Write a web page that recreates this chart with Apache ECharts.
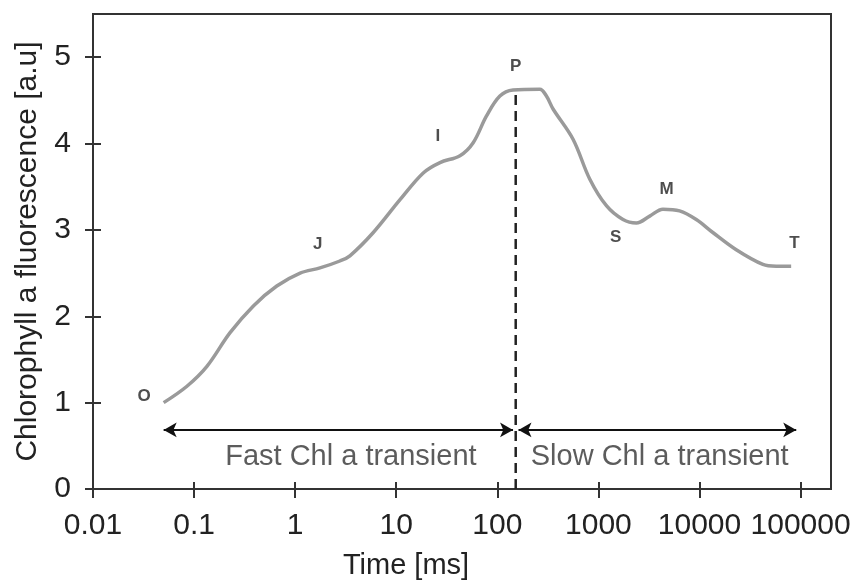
<!DOCTYPE html>
<html>
<head>
<meta charset="utf-8">
<script src="https://cdn.jsdelivr.net/npm/echarts@6/dist/echarts.min.js"></script>
<style>
  html, body { margin: 0; padding: 0; background: #fff; }
  #chart { width: 864px; height: 587px; }
</style>
</head>
<body>
<div id="chart"></div>
<script>
// time in ms (log axis) and fluorescence in a.u.
const timeMs = [0.05, 0.085, 0.134, 0.227, 0.386, 0.658, 1.12, 1.76, 2.77, 3.48, 5.93, 10.9, 18.5, 27.1, 42.7, 57.7, 78.2, 106, 143, 263, 306, 356, 561, 820, 1200, 1750, 2375, 3220, 4350, 6350, 9290, 13550, 23100, 42400, 57400, 80700]
const fluor = [1.0, 1.19, 1.42, 1.81, 2.12, 2.35, 2.50, 2.56, 2.64, 2.70, 2.97, 3.35, 3.66, 3.78, 3.86, 4.01, 4.32, 4.55, 4.62, 4.63, 4.55, 4.40, 4.05, 3.59, 3.28, 3.12, 3.08, 3.16, 3.24, 3.22, 3.12, 2.97, 2.77, 2.60, 2.58, 2.58]

// OJIP / SMT step labels
const stepNames = ['O', 'J', 'I', 'P', 'S', 'M', 'T']
const stepTime = [0.032, 1.67, 25.8, 152, 1480, 4730, 86900]
const stepFluor = [1.07, 2.83, 4.08, 4.90, 2.92, 3.47, 2.85]

// P boundary and phase arrows
const pTime = 152
const pTop = 4.62
const arrowLevel = 0.684
const fastRange = [0.05, 143]
const slowRange = [162, 90600]
const phaseNames = ['Fast Chl a transient', 'Slow Chl a transient']
const phaseTime = [3.56, 4040]
const phaseLevel = 0.37

const xTicks = [0.01, 0.1, 1, 10, 100, 1000, 10000, 100000]
const yTicks = [0, 1, 2, 3, 4, 5]

const font = 'Liberation Sans, Arial, sans-serif'
const box = { left: 93, right: 33, top: 14, bottom: 98 }
const axisColor = '#333'

function xLabel(v) {
  const e = Math.round(Math.log10(v))
  if (Math.abs(Math.log10(v) - e) > 1e-6) return ''
  return e < 0 ? Math.pow(10, e).toFixed(-e) : String(Math.pow(10, e))
}

const chart = echarts.init(document.getElementById('chart'))

const xBase = {
  type: 'log',
  logBase: 10,
  min: xTicks[0],
  max: 200000,
  splitNumber: 10,
  position: 'bottom',
  splitLine: { show: false },
  axisLine: { show: true, onZero: false, lineStyle: { color: axisColor, width: 2 } }
}
const yBase = {
  type: 'value',
  min: yTicks[0],
  max: 5.5,
  interval: 1,
  position: 'left',
  splitLine: { show: false },
  axisLine: { show: true, onZero: false, lineStyle: { color: axisColor, width: 2 } }
}

chart.setOption({
  animation: false,
  backgroundColor: '#fff',
  // two identical grids: the second one only carries the inward half of the crossing ticks
  grid: [
    Object.assign({ show: true, borderColor: axisColor, borderWidth: 2 }, box),
    Object.assign({}, box)
  ],
  xAxis: [
    Object.assign({}, xBase, {
      gridIndex: 0,
      name: 'Time [ms]',
      nameLocation: 'middle',
      nameGap: 62,
      nameTextStyle: { fontFamily: font, fontSize: 29, color: '#222', padding: [0, 112, 0, 0] },
      axisTick: { inside: false, length: 9, lineStyle: { color: axisColor, width: 2 } },
      axisLabel: {
        formatter: xLabel, margin: 22, fontFamily: font, fontSize: 30, color: '#222',
        showMaxLabel: false
      }
    }),
    Object.assign({}, xBase, {
      gridIndex: 1,
      axisTick: { show: true, inside: true, length: 7, lineStyle: { color: axisColor, width: 2 } },
      axisLabel: { show: false }
    })
  ],
  yAxis: [
    Object.assign({}, yBase, {
      gridIndex: 0,
      name: 'Chlorophyll a fluorescence [a.u]',
      nameLocation: 'middle',
      nameGap: 50,
      nameTextStyle: { fontFamily: font, fontSize: 30, color: '#222' },
      axisTick: { inside: false, length: 8, lineStyle: { color: axisColor, width: 2 } },
      axisLabel: {
        margin: 22, fontFamily: font, fontSize: 30, color: '#222',
        showMaxLabel: false,
        formatter: v => (Number.isInteger(v) ? String(v) : '')
      }
    }),
    Object.assign({}, yBase, {
      gridIndex: 1,
      axisTick: { show: true, inside: true, length: 8, lineStyle: { color: axisColor, width: 2 } },
      axisLabel: { show: false }
    })
  ],
  series: [
    {
      name: 'fluorescence',
      type: 'line',
      smooth: 0.35,
      showSymbol: false,
      symbol: 'none',
      data: timeMs.map((t, i) => [t, fluor[i]]),
      lineStyle: { color: '#9a9a9a', width: 3.5 },
      z: 3
    },
    {
      name: 'P boundary',
      type: 'line',
      symbol: 'none',
      data: [[pTime, 0], [pTime, pTop]],
      lineStyle: { color: '#222', width: 2.5, type: [10, 6] },
      z: 2
    },
    {
      name: 'phases',
      type: 'line',
      data: [],
      markLine: {
        silent: true,
        symbol: ['arrow', 'arrow'],
        symbolSize: [11, 13],
        label: { show: false },
        lineStyle: { color: '#111', width: 2, type: 'solid' },
        data: [
          [{ coord: [fastRange[0], arrowLevel] }, { coord: [fastRange[1], arrowLevel] }],
          [{ coord: [slowRange[0], arrowLevel] }, { coord: [slowRange[1], arrowLevel] }]
        ]
      }
    },
    {
      // on the twin grid (same scales) so its axes have data to draw ticks for
      name: 'phase labels',
      type: 'scatter',
      xAxisIndex: 1,
      yAxisIndex: 1,
      symbolSize: 0,
      data: phaseNames.map((n, i) => ({ name: n, value: [phaseTime[i], phaseLevel] })),
      label: {
        show: true, position: 'inside', formatter: '{b}',
        fontFamily: font, fontSize: 29, color: '#333'
      }
    },
    {
      name: 'steps',
      type: 'scatter',
      symbolSize: 0,
      data: stepNames.map((n, i) => ({ name: n, value: [stepTime[i], stepFluor[i]] })),
      label: {
        show: true, position: 'inside', formatter: '{b}',
        fontFamily: font, fontSize: 17, fontWeight: 'bold', color: '#222'
      }
    }
  ]
})
</script>
</body>
</html>
